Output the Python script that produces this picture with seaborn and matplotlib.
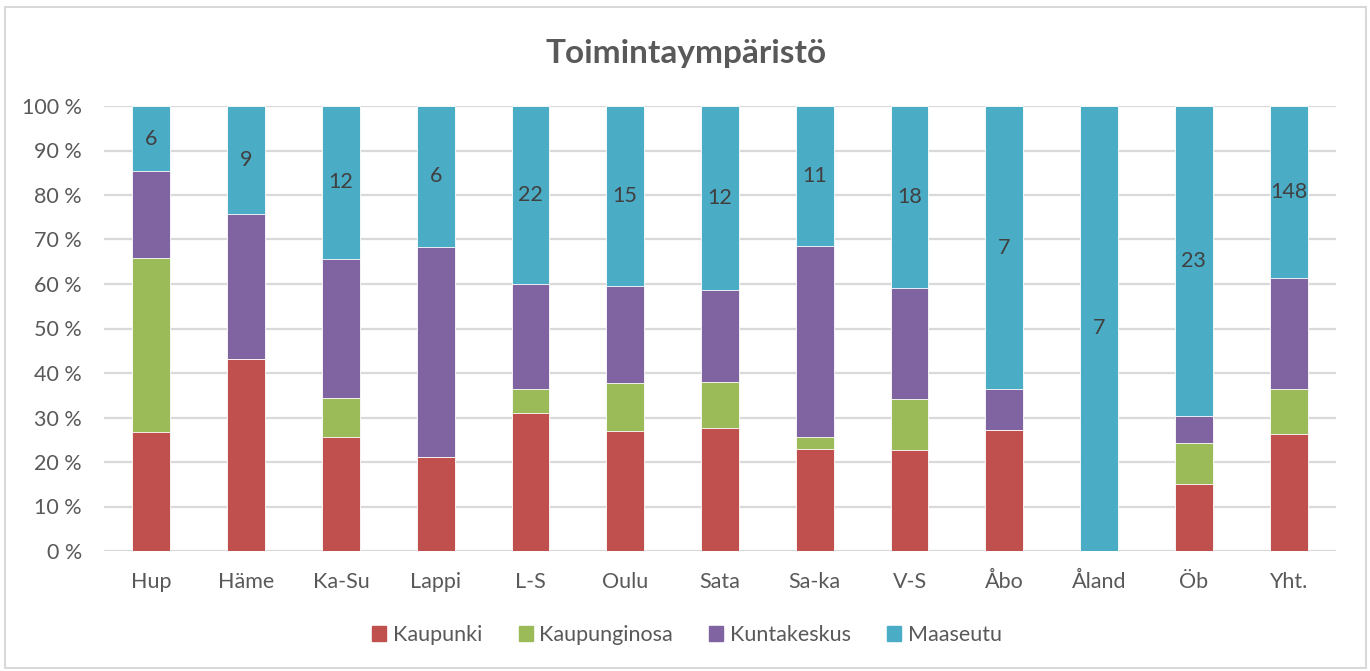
import matplotlib
matplotlib.use("Agg")
import matplotlib.pyplot as plt
import seaborn as sns
import numpy as np
import pandas as pd
from matplotlib.patches import Rectangle

categories = ["Hup", "Häme", "Ka-Su", "Lappi", "L-S", "Oulu", "Sata", "Sa-ka", "V-S", "Åbo", "Åland", "Öb", "Yht."]
kaupunki = [11, 16, 9, 4, 17, 10, 8, 8, 10, 3, 0, 5, 101]
kaupunginosa = [16, 0, 3, 0, 3, 4, 3, 1, 5, 0, 0, 3, 38]
kuntakeskus = [8, 12, 11, 9, 13, 8, 6, 15, 11, 1, 0, 2, 96]
maaseutu = [6, 9, 12, 6, 22, 15, 12, 11, 18, 7, 7, 23, 148]

series_names = ["Kaupunki", "Kaupunginosa", "Kuntakeskus", "Maaseutu"]
colors = ["#C0504D", "#9BBB59", "#8064A2", "#4BACC6"]

sns.set_theme(style="white")
plt.rcParams["font.family"] = ["Lato", "DejaVu Sans"]

counts = np.array([kaupunki, kaupunginosa, kuntakeskus, maaseutu], dtype=float)
totals = counts.sum(axis=0)
shares = counts / totals
cum = np.cumsum(shares, axis=0)

fig = plt.figure(figsize=(13.7, 6.71), dpi=100)
ax = fig.add_axes([104/1370, 1-551/671, (1336-104)/1370, (551-106)/671])

for i in range(3, -1, -1):
    df = pd.DataFrame({"cat": categories, "val": cum[i]})
    sns.barplot(data=df, x="cat", y="val", color=colors[i], width=0.4,
                saturation=1, ax=ax, edgecolor="white", linewidth=0.6, zorder=3)

# data labels for Maaseutu
for j, c in enumerate(categories):
    yc = (cum[2][j] + 1.0) / 2
    ax.text(j, yc, str(maaseutu[j]), ha="center", va="center", fontsize=15.5,
            color="#404040", zorder=5)

ax.set_ylim(0, 1)
ax.set_xlim(-0.5, len(categories) - 0.5)
ax.set_yticks(np.arange(0, 1.01, 0.1))
ax.set_yticklabels([f"{int(round(v*100))} %" for v in np.arange(0, 1.01, 0.1)])
ax.yaxis.grid(True, color="#D9D9D9", linewidth=1.6, zorder=0)
ax.set_axisbelow(True)
ax.tick_params(axis="both", length=0, labelsize=15.5, labelcolor="#595959")
ax.tick_params(axis="x", pad=15)
ax.tick_params(axis="y", pad=16)
ax.set_xlabel("")
ax.set_ylabel("")
for s in ax.spines.values():
    s.set_visible(False)

fig.text(686/1370, 1-53/671, "Toimintaympäristö", ha="center", va="center",
         fontsize=24, fontweight="bold", color="#595959")

handles = [Rectangle((0, 0), 1, 1, color=c) for c in colors]
fig.legend(handles, series_names, loc="center", bbox_to_anchor=(687/1370, 1-635/671),
           ncol=4, frameon=False, fontsize=15.5, labelcolor="#595959",
           handlelength=0.65, handleheight=0.65, handletextpad=0.3, columnspacing=1.7)

fig.patches.append(Rectangle((5/1370, 0.004), (1366-5)/1370, 1-7/671-0.004,
                             transform=fig.transFigure, fill=False,
                             edgecolor="#D9D9D9", linewidth=1.5))

fig.savefig("out.png", dpi=100)
